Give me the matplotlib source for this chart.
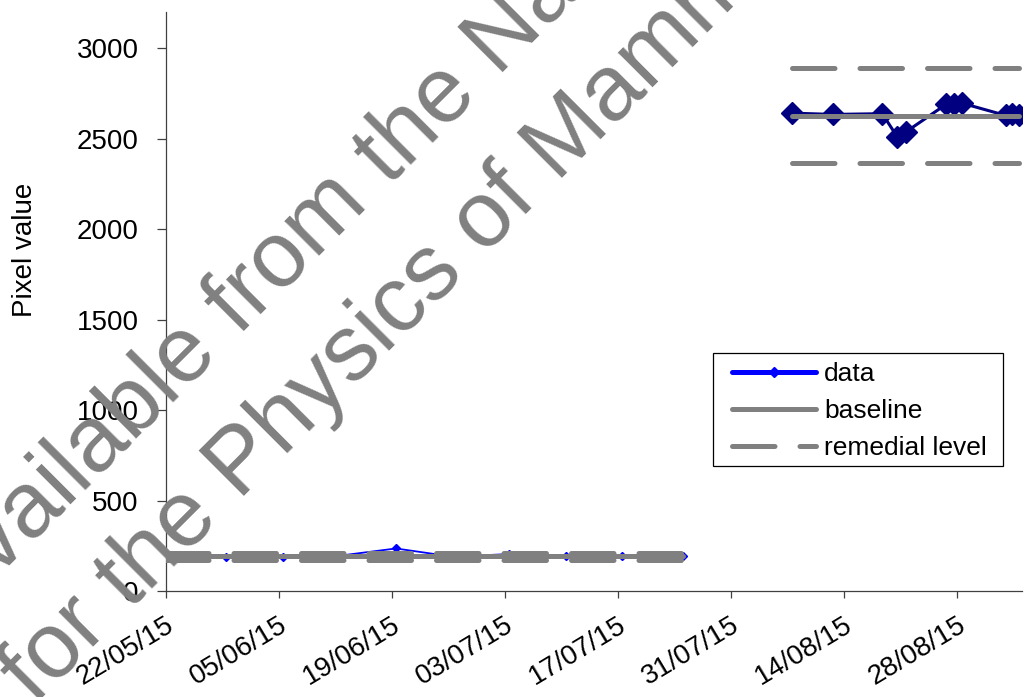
import pandas as pd
import matplotlib
matplotlib.use('Agg')
import matplotlib.pyplot as plt
import matplotlib.dates as mdates
from matplotlib.lines import Line2D
from matplotlib.patches import Rectangle
from matplotlib.transforms import ScaledTranslation

plt.rcParams['font.family'] = ['Liberation Sans', 'DejaVu Sans']

# first run (old detector)
seg1_dates = ['2015-05-22 00:00', '2015-05-29 12:00', '2015-06-05 12:00', '2015-06-12 12:00',
              '2015-06-19 12:00', '2015-06-26 12:00', '2015-07-03 12:00', '2015-07-10 12:00',
              '2015-07-17 12:00', '2015-07-25 00:00']
seg1_values = [199, 190, 190, 195, 235, 190, 204, 196, 193, 195]
seg1_baseline = 192
seg1_remedial = [173, 211]

# second run (new detector)
seg2_dates = ['2015-08-07 14:00', '2015-08-12 14:00', '2015-08-18 17:00', '2015-08-20 14:00',
              '2015-08-21 14:00', '2015-08-26 14:00', '2015-08-27 14:00', '2015-08-28 14:00',
              '2015-09-03 00:00', '2015-09-03 19:00', '2015-09-04 14:00']
seg2_values = [2641, 2634, 2638, 2508, 2536, 2689, 2693, 2696, 2628, 2634, 2628]
seg2_baseline = 2627
seg2_remedial = [2364, 2890]

tick_dates = ['2015-05-22', '2015-06-05', '2015-06-19', '2015-07-03',
              '2015-07-17', '2015-07-31', '2015-08-14', '2015-08-28']
x_range = ['2015-05-22', '2015-09-05']
y_ticks = [0, 500, 1000, 1500, 2000, 2500, 3000]

W, H = 1025, 697
GREY = '#808080'
AXIS = '#404040'
LW = 3.6
DASH = (8.5, 5)

d1 = pd.to_datetime(seg1_dates)
d2 = pd.to_datetime(seg2_dates)

fig = plt.figure(figsize=(W / 100, H / 100), dpi=100)
ax = fig.add_axes([165.7 / W, 106 / H, 856.3 / W, 579 / H])

# data series
ax.plot(d1, seg1_values, color='#0000ff', lw=1.3, marker='D', ms=4, zorder=2)
ax.plot(d2, seg2_values, color='#000080', lw=2.2, marker='D', ms=11,
        markeredgecolor='#000080', zorder=2)

# baseline and remedial levels for each run
for d, base, rem in [(d1, seg1_baseline, seg1_remedial), (d2, seg2_baseline, seg2_remedial)]:
    xs = [d[0], d[-1]]
    ax.plot(xs, [base, base], color=GREY, lw=LW, solid_capstyle='round', zorder=3)
    for r in rem:
        ax.plot(xs, [r, r], color=GREY, lw=LW, dashes=DASH, dash_capstyle='round', zorder=3)

ax.set_xlim(pd.to_datetime(x_range[0]), pd.to_datetime(x_range[1]))
ax.set_ylim(0, 3200)
ax.set_yticks(y_ticks)
ax.set_xticks(pd.to_datetime(tick_dates))
ax.xaxis.set_major_formatter(mdates.DateFormatter('%d/%m/%y'))

for s in ['top', 'right']:
    ax.spines[s].set_visible(False)
for s in ['left', 'bottom']:
    ax.spines[s].set_color(AXIS)
    ax.spines[s].set_linewidth(0.9)

ax.tick_params(axis='y', length=6.5, width=0.9, color=AXIS, pad=13, labelsize=20)
ax.tick_params(axis='x', length=5.3, width=0.9, color=AXIS, labelsize=20)
off = ScaledTranslation(4.5 / 72, -14.5 / 72, fig.dpi_scale_trans)
for lab in ax.get_xticklabels():
    lab.set_rotation(31)
    lab.set_ha('right')
    lab.set_va('center')
    lab.set_rotation_mode('anchor')
    lab.set_transform(lab.get_transform() + off)

fig.text(25 / W, 1 - 250 / H, 'Pixel value', rotation=90, ha='center', va='center', fontsize=20)

handles = [
    Line2D([], [], color='#0000ff', lw=LW, marker='D', ms=5, solid_capstyle='round'),
    Line2D([], [], color=GREY, lw=LW, solid_capstyle='round'),
    Line2D([], [], color=GREY, lw=LW, dashes=DASH, dash_capstyle='round'),
]
leg = ax.legend(handles, ['data', 'baseline', 'remedial level'],
                loc='upper left', bbox_to_anchor=(732 / W, 1 - 362 / H),
                bbox_transform=fig.transFigure, borderaxespad=0, borderpad=0,
                fontsize=19, handlelength=3.2, handletextpad=0.3,
                labelspacing=0.5, frameon=False)
fig.patches.append(Rectangle((713 / W, 1 - 466 / H), 290 / W, 113 / H,
                             transform=fig.transFigure, fill=False,
                             edgecolor='black', lw=0.9, zorder=5))

# watermark
wm = dict(rotation=45, rotation_mode='anchor', ha='left', va='baseline',
          fontsize=67, color=GREY, zorder=10)
fig.text(-45 / W, 1 - 621 / H, 'Available from the National Co-ordinating Centre', **wm)
fig.text(35 / W, 1 - 706 / H, 'for the Physics of Mammography', **wm)

fig.savefig('out.png', dpi=100)
